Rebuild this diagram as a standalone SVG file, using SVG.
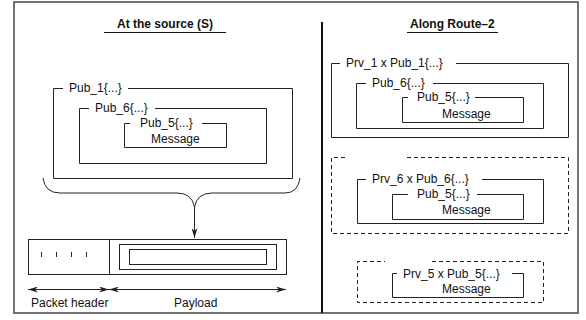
<svg xmlns="http://www.w3.org/2000/svg" width="586" height="320" viewBox="0 0 586 320">
<style>
text{font-family:"Liberation Sans",Arial,sans-serif;font-size:12px;fill:#111}
.t{font-weight:bold}
.b{fill:none;stroke:#222;stroke-width:1}
.d{fill:none;stroke:#222;stroke-width:1;stroke-dasharray:4,3}
</style>
<defs>
<marker id="ah" viewBox="0 0 10 6" refX="10" refY="3" markerWidth="10" markerHeight="6" markerUnits="userSpaceOnUse" orient="auto-start-reverse">
<path d="M0,0 L10,3 L0,6 L3,3 Z" fill="#222"/>
</marker>
</defs>
<rect x="14" y="2" width="564" height="311" fill="#fff" stroke="#444" stroke-width="1.5"/>
<line x1="322" y1="22" x2="322" y2="313" stroke="#111" stroke-width="2"/>
<g id="title-left"><text class="t" x="117" y="28">At the source (S)</text><line x1="104" y1="32.5" x2="226" y2="32.5" stroke="#111"/></g>
<g id="title-right"><text class="t" x="410" y="28">Along Route–2</text><line x1="407" y1="32.5" x2="498" y2="32.5" stroke="#111"/></g>

<g id="src-pub1"><path class="b" d="M128,88.5 H292.5 V178.5 H53.5 V88.5 H63"/><text x="69" y="92">Pub_1{...}</text></g>
<g id="src-pub6"><path class="b" d="M155,108.5 H266.5 V163.5 H79.5 V108.5 H89"/><text x="95" y="112">Pub_6{...}</text></g>
<g id="src-pub5"><path class="b" d="M202,123.5 H226.5 V147.5 H124.5 V123.5 H130"/><text x="140" y="127">Pub_5{...}</text><text x="151" y="143">Message</text></g>

<g id="packet">
<rect class="b" x="28.5" y="239.5" width="258" height="35"/>
<line class="b" x1="109.5" y1="239.5" x2="109.5" y2="274.5"/>
<path class="b" d="M41.5,252 V257 M56.5,252 V257 M71.5,252 V257 M86.5,252 V257"/>
<rect class="b" x="119.5" y="244.5" width="157" height="25"/>
<rect class="b" x="129.5" y="249.5" width="137" height="15"/>
</g>
<g id="labels-bottom"><text x="31" y="307">Packet header</text><text x="174" y="307">Payload</text></g>

<g id="route-box1"><path class="b" d="M456,63.5 H568.5 V137.5 H331.5 V63.5 H340"/><text x="346" y="67">Prv_1 x Pub_1{...}</text></g>
<g id="route-box1-pub6"><path class="b" d="M433,83.5 H543.5 V128.5 H356.5 V83.5 H366"/><text x="372" y="87">Pub_6{...}</text></g>
<g id="route-box1-pub5"><path class="b" d="M475,97.5 H523.5 V122.5 H402.5 V97.5 H408"/><text x="417" y="101">Pub_5{...}</text><text x="442" y="118">Message</text></g>

<g id="route-box2"><path class="d" d="M407,157.5 H568.5 V233.5 H331.5 V157.5 H347"/></g>
<g id="route-box2-prv6"><path class="b" d="M482,179.5 H543.5 V223.5 H357.5 V179.5 H366"/><text x="372" y="183">Prv_6 x Pub_6{...}</text></g>
<g id="route-box2-pub5"><path class="b" d="M477,194.5 H523.5 V219.5 H392.5 V194.5 H408"/><text x="417" y="198">Pub_5{...}</text><text x="442" y="214">Message</text></g>

<g id="route-box3"><path class="d" d="M432,261.5 H543.5 V302.5 H357.5 V261.5 H385"/></g>
<g id="route-box3-prv5"><path class="b" d="M512,273.5 H523.5 V297.5 H392.5 V273.5 H397"/><text x="403" y="277.5">Prv_5 x Pub_5{...}</text><text x="442" y="293">Message</text></g>

<g id="connectors">
<path class="b" d="M43,178 Q45,193 60,193 L177,193 Q192,193 194.5,207 Q197,193 212,193 L285,193 Q298,193 300,178"/>
<line class="b" x1="194.5" y1="207" x2="194.5" y2="238" marker-end="url(#ah)"/>
<line class="b" x1="28" y1="289.5" x2="109" y2="289.5" marker-start="url(#ah)" marker-end="url(#ah)"/>
<line class="b" x1="109" y1="289.5" x2="286" y2="289.5" marker-start="url(#ah)" marker-end="url(#ah)"/>
</g>
</svg>
